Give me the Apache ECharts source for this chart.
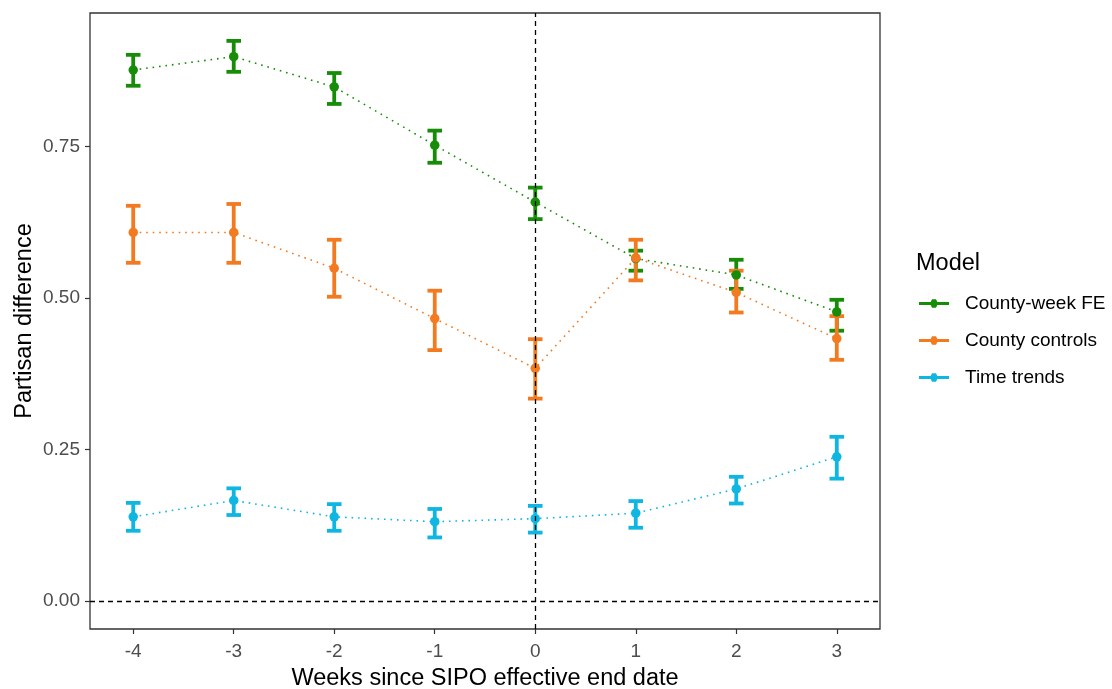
<!DOCTYPE html>
<html>
<head>
<meta charset="utf-8">
<script src="https://cdn.jsdelivr.net/npm/echarts@6/dist/echarts.min.js"></script>
<style>
  html, body { margin: 0; padding: 0; background: #fff; }
  #chart { width: 1112px; height: 689px; }
</style>
</head>
<body>
<div id="chart"></div>
<script>
// ---- data ----
const weeks = [-4, -3, -2, -1, 0, 1, 2, 3];
const xTicks = [-4, -3, -2, -1, 0, 1, 2, 3];
const yTicks = [0, 0.25, 0.5, 0.75];
const modelNames = ['County-week FE', 'County controls', 'Time trends'];

const fe_est = [0.876, 0.898, 0.848, 0.752, 0.658, 0.565, 0.538, 0.477];
const fe_lo  = [0.850, 0.873, 0.820, 0.723, 0.630, 0.545, 0.515, 0.446];
const fe_hi  = [0.901, 0.924, 0.871, 0.776, 0.682, 0.578, 0.563, 0.497];

const cc_est = [0.608, 0.608, 0.549, 0.466, 0.384, 0.566, 0.509, 0.433];
const cc_lo  = [0.558, 0.558, 0.502, 0.414, 0.334, 0.529, 0.476, 0.398];
const cc_hi  = [0.652, 0.655, 0.596, 0.512, 0.432, 0.596, 0.545, 0.470];

const tt_est = [0.139, 0.166, 0.139, 0.131, 0.136, 0.145, 0.185, 0.238];
const tt_lo  = [0.116, 0.142, 0.116, 0.105, 0.113, 0.121, 0.161, 0.202];
const tt_hi  = [0.162, 0.186, 0.160, 0.152, 0.157, 0.165, 0.205, 0.271];

// ---- styling ----
const colors = ['#178C08', '#F27A21', '#10B6E2'];
const FONT = '"Liberation Sans", Arial, sans-serif';
const CAP = 0.145; // errorbar cap width in x data units

const groups = [
  { name: modelNames[0], est: fe_est, lo: fe_lo, hi: fe_hi, color: colors[0] },
  { name: modelNames[1], est: cc_est, lo: cc_lo, hi: cc_hi, color: colors[1] },
  { name: modelNames[2], est: tt_est, lo: tt_lo, hi: tt_hi, color: colors[2] }
];

function errRender(params, api) {
  const x = api.value(0), lo = api.value(1), hi = api.value(2);
  const top = api.coord([x, hi]);
  const bot = api.coord([x, lo]);
  const half = api.size([CAP, 0])[0] / 2;
  const st = { stroke: api.visual('color'), lineWidth: 3.8, lineCap: 'butt' };
  return {
    type: 'group',
    children: [
      { type: 'line', shape: { x1: top[0], y1: top[1], x2: bot[0], y2: bot[1] }, style: st },
      { type: 'line', shape: { x1: top[0] - half, y1: top[1], x2: top[0] + half, y2: top[1] }, style: st },
      { type: 'line', shape: { x1: bot[0] - half, y1: bot[1], x2: bot[0] + half, y2: bot[1] }, style: st }
    ]
  };
}

const series = [];
// reference dashed lines
series.push({
  type: 'line', name: 'ref', data: [], silent: true, z: 1,
  markLine: {
    silent: true, symbol: 'none', label: { show: false },
    lineStyle: { color: '#000', type: [5, 4], width: 1.3 },
    emphasis: { disabled: true },
    animation: false,
    data: [{ xAxis: 0 }, { yAxis: 0 }]
  }
});
groups.forEach(g => {
  series.push({
    type: 'custom', name: g.name, z: 2,
    itemStyle: { color: g.color },
    renderItem: errRender,
    encode: { x: 0, y: [1, 2] },
    data: weeks.map((w, i) => [w, g.lo[i], g.hi[i]])
  });
});
groups.forEach(g => {
  series.push({
    type: 'line', name: g.name, z: 3,
    data: weeks.map((w, i) => [w, g.est[i]]),
    symbol: 'circle', symbolSize: 9.5,
    itemStyle: { color: g.color },
    lineStyle: { color: g.color, width: 1.6, type: [1.6, 4.9] },
    emphasis: { disabled: true }
  });
});

const legendIcon = 'path://M0,4 L30,4 L30,7 L0,7 Z M11,5.5 L13,1.3 L17,1.3 L19,5.5 L17,9.7 L13,9.7 Z';

const option = {
  animation: false,
  backgroundColor: '#fff',
  textStyle: { fontFamily: FONT },
  title: {
    text: 'Model', left: 916, top: 252, padding: 0,
    textStyle: { fontFamily: FONT, fontSize: 23.5, fontWeight: 'normal', color: '#000' }
  },
  legend: {
    orient: 'vertical', left: 919, top: 294, padding: 0,
    itemWidth: 30, itemHeight: 8.5, itemGap: 18,
    data: groups.map(g => ({ name: g.name, icon: legendIcon, itemStyle: { color: g.color } })),
    textStyle: { fontFamily: FONT, fontSize: 19, color: '#000', padding: [0, 0, 0, 11] },
    selectedMode: false
  },
  grid: {
    left: 90, top: 13, width: 790, height: 616,
    containLabel: false, outerBoundsMode: 'none',
    show: true, borderColor: '#333', borderWidth: 1.3, backgroundColor: '#fff'
  },
  xAxis: {
    type: 'value', min: -4.43, max: 3.43,
    name: 'Weeks since SIPO effective end date',
    nameLocation: 'middle', nameGap: 38, nameMoveOverlap: false,
    nameTextStyle: { fontFamily: FONT, fontSize: 23.5, color: '#000' },
    axisLine: { show: false, onZero: false },
    axisTick: { show: true, length: 5, lineStyle: { color: '#333', width: 1.2 }, customValues: xTicks },
    axisLabel: { margin: 13, fontFamily: FONT, fontSize: 19, color: '#4D4D4D', customValues: xTicks,
                 formatter: v => String(v) },
    splitLine: { show: false }
  },
  yAxis: {
    type: 'value', min: -0.046, max: 0.970,
    name: 'Partisan difference',
    nameLocation: 'middle', nameGap: 53, nameRotate: 90, nameMoveOverlap: false,
    nameTextStyle: { fontFamily: FONT, fontSize: 23.5, color: '#000' },
    axisLine: { show: false, onZero: false },
    axisTick: { show: true, length: 5, lineStyle: { color: '#333', width: 1.2 }, customValues: yTicks },
    axisLabel: { margin: 10, fontFamily: FONT, fontSize: 19, color: '#4D4D4D', customValues: yTicks,
                 formatter: v => Number(v).toFixed(2) },
    splitLine: { show: false }
  },
  series: series
};

const chart = echarts.init(document.getElementById('chart'), null, { renderer: 'canvas' });
chart.setOption(option);
</script>
</body>
</html>
